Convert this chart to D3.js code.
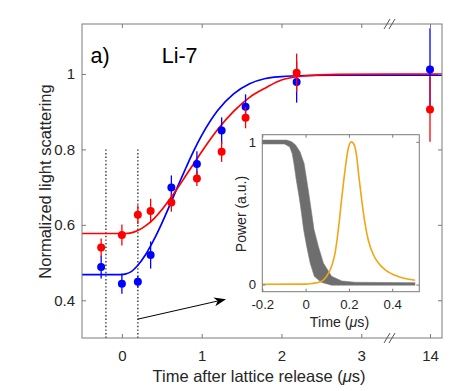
<!DOCTYPE html>
<html><head><meta charset="utf-8">
<script src="https://cdn.jsdelivr.net/npm/d3@7"></script>
<style>
body{margin:0;background:#fff;}
svg{display:block;font-family:"Liberation Sans",Arial,Helvetica,sans-serif;}
</style>
</head><body>
<svg id="chart" width="476" height="391"></svg>
<script>
// ---------------- data ----------------
const xTickValues = [0, 1, 2, 3, 14];
const yTickValues = [0.4, 0.6, 0.8, 1];
const times = [-0.26, 0, 0.2, 0.36, 0.62, 0.94, 1.25, 1.55, 2.19, 14];
const blueValues = [0.488, 0.444, 0.449, 0.52, 0.699, 0.761, 0.85, 0.913, 0.979, 1.012];
const blueErrors = [0.03, 0.027, 0.016, 0.036, 0.032, 0.034, 0.035, 0.033, 0.055, 0.109];
const redValues = [0.54, 0.573, 0.627, 0.637, 0.659, 0.723, 0.794, 0.884, 1.003, 0.906];
const redErrors = [0.024, 0.028, 0.025, 0.032, 0.024, 0.02, 0.027, 0.028, 0.051, 0.086];

const fitTimes = [-0.5, -0.2, 0, 0.05, 0.1, 0.2, 0.3, 0.4, 0.5, 0.6, 0.7, 0.8, 0.9, 1.0, 1.2, 1.4, 1.6, 1.8, 2.0, 2.3, 2.7, 3.36, 13.5, 14.15];
const blueFit = [0.468, 0.468, 0.468, 0.470, 0.474, 0.493, 0.522, 0.560, 0.604, 0.652, 0.702, 0.750, 0.796, 0.837, 0.903, 0.947, 0.974, 0.988, 0.993, 0.996, 0.997, 0.997, 0.997, 0.997];
const redFit = [0.577, 0.577, 0.577, 0.577, 0.578, 0.585, 0.598, 0.616, 0.640, 0.668, 0.698, 0.730, 0.762, 0.794, 0.853, 0.901, 0.938, 0.963, 0.984, 0.995, 0.999, 1.0, 1.0, 1.0];

const dottedTimes = [-0.2, 0.2];
const dottedRange = [0.8, 0.3];
const arrowFrom = [0.2, 0.35];
const arrowTo = [1.305, 0.403];

// inset
const insetXTicks = [-0.2, 0, 0.2, 0.4];
const insetYTicks = [0, 1];
const orangeT = [-0.2, 0.0, 0.028, 0.074, 0.097, 0.12, 0.136, 0.151, 0.166, 0.182, 0.197, 0.211, 0.225, 0.236, 0.246, 0.259, 0.274, 0.289, 0.313, 0.336, 0.366, 0.413, 0.459, 0.505];
const orangeV = [0.002, 0.003, 0.007, 0.023, 0.058, 0.128, 0.221, 0.384, 0.593, 0.802, 0.954, 1.0, 0.977, 0.895, 0.756, 0.593, 0.43, 0.314, 0.209, 0.151, 0.105, 0.065, 0.042, 0.03];
const grayHiT = [-0.2, -0.087, -0.064, -0.046, -0.026, -0.007, 0.005, 0.017, 0.028, 0.039, 0.059, 0.082, 0.12, 0.167, 0.228, 0.505];
const grayHiV = [1.012, 1.012, 1.0, 0.977, 0.93, 0.849, 0.733, 0.616, 0.5, 0.384, 0.267, 0.151, 0.058, 0.025, 0.016, 0.013];
const grayLoT = [-0.2, -0.098, -0.074, -0.062, -0.054, -0.043, -0.03, -0.019, -0.009, 0.005, 0.021, 0.04, 0.072, 0.12, 0.505];
const grayLoV = [0.985, 0.985, 0.965, 0.919, 0.849, 0.733, 0.616, 0.5, 0.384, 0.267, 0.151, 0.058, 0.016, -0.004, -0.004];

// ---------------- drawing ----------------
const svg = d3.select("#chart");
const textColor = "#262626";
const boxColor = "#7a7a7a";

const x = d3.scaleLinear().domain([-0.5, 3.36, 13.5, 14.15]).range([82, 390, 390, 442]);
const y = d3.scaleLinear().domain([0.3, 1.1325]).range([338, 24]);
const L = 82, R = 442, T = 24, B = 338;

// dotted lines
svg.append("g").selectAll("line").data(dottedTimes).join("line")
  .attr("x1", d => x(d)).attr("x2", d => x(d))
  .attr("y1", y(dottedRange[0])).attr("y2", y(dottedRange[1]))
  .attr("stroke", "#333").attr("stroke-width", 1.4).attr("stroke-dasharray", "1.4,2.2");

// fit curves
const line = d3.line().x(d => x(d[0])).y(d => y(d[1])).curve(d3.curveMonotoneX);
svg.append("path").datum(fitTimes.map((t, i) => [t, blueFit[i]]))
  .attr("d", line).attr("fill", "none").attr("stroke", "#0000ff").attr("stroke-width", 1.7);
svg.append("path").datum(fitTimes.map((t, i) => [t, redFit[i]]))
  .attr("d", line).attr("fill", "none").attr("stroke", "#ff0000").attr("stroke-width", 1.7);

// points with error bars
function drawSeries(vals, errs, color) {
  const g = svg.append("g");
  const data = times.map((t, i) => ({t, v: vals[i], e: errs[i]}));
  g.selectAll("line").data(data).join("line")
    .attr("x1", d => x(d.t)).attr("x2", d => x(d.t))
    .attr("y1", d => y(d.v - d.e)).attr("y2", d => y(d.v + d.e))
    .attr("stroke", color).attr("stroke-width", 1.3);
  g.selectAll("circle").data(data).join("circle")
    .attr("cx", d => x(d.t)).attr("cy", d => y(d.v)).attr("r", 4)
    .attr("fill", color);
}
drawSeries(blueValues, blueErrors, "#0000ff");
drawSeries(redValues, redErrors, "#ff0000");

// arrow
{
  const x0 = x(arrowFrom[0]), y0 = y(arrowFrom[1]);
  const x1 = x(arrowTo[0]), y1 = y(arrowTo[1]);
  const len = Math.hypot(x1 - x0, y1 - y0);
  const ux = (x1 - x0) / len, uy = (y1 - y0) / len;
  const nx = -uy, ny = ux;
  const hl = 12, hw = 4.5, notch = 3.5;
  svg.append("line").attr("x1", x0).attr("y1", y0)
    .attr("x2", x1 - (hl - notch) * ux).attr("y2", y1 - (hl - notch) * uy)
    .attr("stroke", "#000").attr("stroke-width", 1);
  const pts = [[x1, y1], [x1 - hl * ux + hw * nx, y1 - hl * uy + hw * ny],
    [x1 - (hl - notch) * ux, y1 - (hl - notch) * uy],
    [x1 - hl * ux - hw * nx, y1 - hl * uy - hw * ny]];
  svg.append("path").attr("d", "M" + pts.map(p => p.join(",")).join("L") + "Z").attr("fill", "#000");
}

// axes box and ticks
svg.append("rect").attr("x", L).attr("y", T).attr("width", R - L).attr("height", B - T)
  .attr("fill", "none").attr("stroke", boxColor).attr("stroke-width", 1);

function styleAxis(g) {
  g.select(".domain").remove();
  g.selectAll(".tick line").attr("stroke", boxColor);
  g.selectAll(".tick text").attr("fill", textColor);
}
svg.append("g").attr("transform", `translate(0,${B})`)
  .call(d3.axisBottom(x).tickValues(xTickValues).tickSizeInner(-4).tickSizeOuter(0).tickPadding(12.5).tickFormat(d3.format("d")))
  .attr("font-size", 15).attr("font-family", null).call(styleAxis);
svg.append("g").attr("transform", `translate(0,${T})`)
  .call(d3.axisTop(x).tickValues(xTickValues).tickSizeInner(-4).tickSizeOuter(0).tickFormat(""))
  .call(styleAxis);
svg.append("g").attr("transform", `translate(${L},0)`)
  .call(d3.axisLeft(y).tickValues(yTickValues).tickSizeInner(-4).tickSizeOuter(0).tickPadding(7).tickFormat(d => String(d)))
  .attr("font-size", 15).attr("font-family", null).call(styleAxis);
svg.append("g").attr("transform", `translate(${R},0)`)
  .call(d3.axisRight(y).tickValues(yTickValues).tickSizeInner(-4).tickSizeOuter(0).tickFormat(""))
  .call(styleAxis);

// break marks
const bx = x(3.36);
[T, B].forEach(by => {
  [0, 5].forEach(off => {
    svg.append("line").attr("x1", bx - 6 + off).attr("y1", by + 5)
      .attr("x2", bx + off).attr("y2", by - 5)
      .attr("stroke", "#555").attr("stroke-width", 1);
  });
});

// labels
svg.append("text").attr("x", 259).attr("y", 381.5).attr("text-anchor", "middle")
  .attr("font-size", 16.5).attr("fill", textColor)
  .call(t => { t.append("tspan").text("Time after lattice release ("); t.append("tspan").attr("font-style", "italic").text("μ"); t.append("tspan").text("s)"); });
svg.append("text").attr("transform", "translate(50.5,181.5) rotate(-90)").attr("text-anchor", "middle")
  .attr("font-size", 16.5).attr("fill", textColor).text("Normalized light scattering");
svg.append("text").attr("x", 90.5).attr("y", 63.3).attr("font-size", 21.5).attr("fill", "#000").text("a)");
svg.append("text").attr("x", 161.7).attr("y", 63.3).attr("font-size", 21.5).attr("fill", "#000").text("Li-7");

// ---------------- inset ----------------
const xi = d3.scaleLinear().domain([-0.2, 0.525]).range([262.3, 419.3]);
const yi = d3.scaleLinear().domain([-0.05, 1.05]).range([291.7, 134.7]);
const iL = 262.3, iR = 419.3, iT = 134.7, iB = 291.7;
svg.append("rect").attr("x", iL).attr("y", iT).attr("width", iR - iL).attr("height", iB - iT)
  .attr("fill", "#fff").attr("stroke", "none");

const grayPoly = grayHiT.map((t, i) => [t, grayHiV[i]])
  .concat(grayLoT.map((t, i) => [t, grayLoV[i]]).reverse());
svg.append("path").datum(grayPoly)
  .attr("d", d3.line().x(d => xi(d[0])).y(d => yi(d[1])).curve(d3.curveLinearClosed))
  .attr("fill", "#6e6e6e").attr("stroke", "#7a7a7a").attr("stroke-width", 0.6);

svg.append("path").datum(orangeT.map((t, i) => [t, orangeV[i]]))
  .attr("d", d3.line().x(d => xi(d[0])).y(d => yi(d[1])).curve(d3.curveMonotoneX))
  .attr("fill", "none").attr("stroke", "#f2a516").attr("stroke-width", 1.6);

svg.append("rect").attr("x", iL).attr("y", iT).attr("width", iR - iL).attr("height", iB - iT)
  .attr("fill", "none").attr("stroke", boxColor).attr("stroke-width", 1);

svg.append("g").attr("transform", `translate(0,${iB})`)
  .call(d3.axisBottom(xi).tickValues(insetXTicks).tickSizeInner(-3).tickSizeOuter(0).tickPadding(8.2).tickFormat(d => String(d)))
  .attr("font-size", 13.2).attr("font-family", null).call(styleAxis);
svg.append("g").attr("transform", `translate(0,${iT})`)
  .call(d3.axisTop(xi).tickValues(insetXTicks).tickSizeInner(-3).tickSizeOuter(0).tickFormat(""))
  .call(styleAxis);
svg.append("g").attr("transform", `translate(${iL},0)`)
  .call(d3.axisLeft(yi).tickValues(insetYTicks).tickSizeInner(-3).tickSizeOuter(0).tickPadding(6.3).tickFormat(d => String(d)))
  .attr("font-size", 13.2).attr("font-family", null).call(styleAxis);
svg.append("g").attr("transform", `translate(${iR},0)`)
  .call(d3.axisRight(yi).tickValues(insetYTicks).tickSizeInner(-3).tickSizeOuter(0).tickFormat(""))
  .call(styleAxis);

svg.append("text").attr("x", 339.5).attr("y", 326.8).attr("text-anchor", "middle")
  .attr("font-size", 14.2).attr("fill", textColor)
  .call(t => { t.append("tspan").text("Time ("); t.append("tspan").attr("font-style", "italic").text("μ"); t.append("tspan").text("s)"); });
svg.append("text").attr("transform", "translate(246,214) rotate(-90)").attr("text-anchor", "middle")
  .attr("font-size", 14).attr("fill", textColor).text("Power (a.u.)");
</script>
</body></html>
